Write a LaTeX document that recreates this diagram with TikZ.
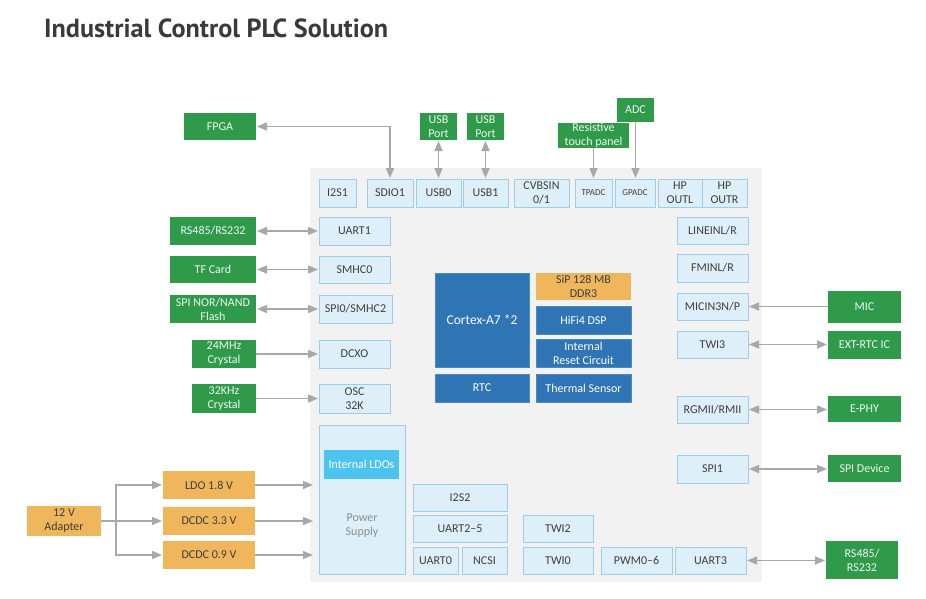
\documentclass[tikz,border=0pt]{standalone}
\usepackage{fontspec}
\setmainfont{Carlito}
\newfontfamily\titlefont{PT Sans}
\usetikzlibrary{arrows.meta}
\definecolor{grn}{HTML}{2F9B4A}
\definecolor{org}{HTML}{F0B65C}
\definecolor{lbf}{HTML}{DDEFF9}
\definecolor{lbd}{HTML}{9DCDEA}
\definecolor{blu}{HTML}{2F75B5}
\definecolor{cyn}{HTML}{4DC4F0}
\definecolor{bgc}{HTML}{F2F2F2}
\definecolor{arc}{HTML}{A8A8A8}
\definecolor{dk}{HTML}{3F3F3F}
\definecolor{ttl}{HTML}{3A3A3A}
\definecolor{pst}{HTML}{8C8C8C}
\newcommand\mybox[7]{\node[#2, minimum width={(#5-#3)*1pt}, minimum height={(#6-#4)*1pt}] (#1) at ({(#3+#5)/2},{(#4+#6)/2}) {#7};}
\begin{document}
\begin{tikzpicture}[x=1pt,y=-1pt,
  base/.style={inner sep=0pt, outer sep=0pt, align=center, font=\fontsize{12}{14}\selectfont},
  lb/.style={base, draw=lbd, line width=0.9pt, fill=lbf, text=dk},
  gb/.style={base, fill=grn, text=white!92!grn},
  ob/.style={base, fill=org, text=dk},
  bb/.style={base, fill=blu, draw=blu!85!white, line width=0.6pt, text=white},
  small/.style={font=\fontsize{9}{11}\selectfont},
  ar/.style={draw=arc, line width=1.5pt, -{Triangle[length=10pt,width=8pt]}, shorten >=1pt},
  bar/.style={draw=arc, line width=1.5pt, {Triangle[length=10pt,width=8pt]}-{Triangle[length=10pt,width=8pt]}, shorten >=1pt, shorten <=1pt},
  ln/.style={draw=arc, line width=1.5pt}]
\useasboundingbox[fill=white] (0,0) rectangle (926,598);

\node[anchor=base west, inner sep=0pt, text=ttl] (title) at (44,37) {\resizebox{344pt}{!}{\titlefont\bfseries Industrial Control PLC Solution}};

% chip background
\mybox{bg}{base, fill=bgc}{310}{168}{762}{582}{}

% top row
\mybox{i2s1}{lb}{319}{179}{356}{207}{I2S1}
\mybox{sdio1}{lb}{367}{179}{413}{207}{SDIO1}
\mybox{usb0}{lb}{416}{179}{461}{207}{USB0}
\mybox{usb1}{lb}{463}{179}{508}{207}{USB1}
\mybox{cvbs}{lb}{514}{179}{569}{207}{CVBSIN\\0/1}
\mybox{tpadc}{lb,small}{575}{179}{612}{207}{TPADC}
\mybox{gpadc}{lb,small}{615}{179}{655}{207}{GPADC}
\mybox{hpl}{lb}{658}{179}{702}{207}{HP\\OUTL}
\mybox{hpr}{lb}{702}{179}{747}{207}{HP\\OUTR}

% top externals
\mybox{fpga}{gb}{184}{113}{256}{140}{FPGA}
\mybox{usbp1}{gb}{420}{113}{457}{140}{USB\\Port}
\mybox{usbp2}{gb}{467}{113}{504}{140}{USB\\Port}
\mybox{rtp}{gb}{558}{123}{629}{148}{Resistive\\touch panel}
\mybox{adc}{gb}{617}{98}{654}{122}{ADC}

% left column
\mybox{uart1}{lb}{319}{217}{390}{245}{UART1}
\mybox{smhc0}{lb}{319}{256}{390}{283}{SMHC0}
\mybox{spi0}{lb}{319}{295}{392}{323}{SPI0/SMHC2}
\mybox{dcxo}{lb}{319}{340}{390}{368}{DCXO}
\mybox{osc}{lb}{319}{384}{390}{413}{OSC\\32K}
\mybox{power}{lb}{319}{425}{405}{574}{}
\mybox{ldos}{base, fill=cyn, text=white}{324}{450}{399}{479}{Internal LDOs}
\node[base, text=pst] (pstext) at (362,525.5) {Power\\Supply};

% left externals
\mybox{rsa}{gb}{170}{217}{256}{245}{RS485/RS232}
\mybox{tf}{gb}{170}{256}{256}{283}{TF Card}
\mybox{nor}{gb}{170}{295}{256}{323}{SPI NOR/NAND\\Flash}
\mybox{x24}{gb}{192}{340}{256}{368}{24MHz\\Crystal}
\mybox{x32}{gb}{192}{384}{256}{413}{32KHz\\Crystal}

% center
\mybox{cortex}{bb}{435}{273}{529}{367}{\fontsize{13.5}{15}\selectfont Cortex-A7 *2}
\mybox{rtc}{bb}{435}{374}{529}{402}{RTC}
\mybox{sip}{ob}{536}{273}{631}{300}{SiP 128 MB\\DDR3}
\mybox{hifi}{bb}{536}{306}{631}{334}{HiFi4 DSP}
\mybox{irc}{bb}{536}{339}{631}{367}{Internal\\Reset Circuit}
\mybox{therm}{bb}{536}{374}{631}{402}{Thermal Sensor}

% right column
\mybox{linein}{lb}{677}{217}{748}{244}{LINEINL/R}
\mybox{fmin}{lb}{677}{254}{748}{282}{FMINL/R}
\mybox{micin}{lb}{677}{293}{748}{320}{MICIN3N/P}
\mybox{twi3}{lb}{677}{331}{748}{358}{TWI3}
\mybox{rgmii}{lb}{677}{396}{748}{423}{RGMII/RMII}
\mybox{spi1}{lb}{677}{455}{748}{483}{SPI1}

% right externals
\mybox{mic}{gb}{828}{291}{901}{323}{MIC}
\mybox{extrtc}{gb}{828}{331}{901}{359}{EXT-RTC IC}
\mybox{ephy}{gb}{828}{396}{901}{422}{E-PHY}
\mybox{spidev}{gb}{828}{455}{901}{482}{SPI Device}
\mybox{rsb}{gb}{826}{541}{898}{579}{RS485/\\RS232}

% bottom
\mybox{i2s2}{lb}{413}{484}{507}{511}{I2S2}
\mybox{uart25}{lb}{413}{515}{507}{542}{UART2–5}
\mybox{uart0}{lb}{413}{547}{458}{574}{UART0}
\mybox{ncsi}{lb}{462}{547}{507}{574}{NCSI}
\mybox{twi2}{lb}{523}{515}{593}{542}{TWI2}
\mybox{twi0}{lb}{523}{547}{593}{574}{TWI0}
\mybox{pwm}{lb}{601}{547}{672}{574}{PWM0–6}
\mybox{uart3}{lb}{675}{547}{746}{574}{UART3}

% power
\mybox{adapter}{ob}{27}{506}{101}{536}{12 V\\Adapter}
\mybox{ldo}{ob}{163}{471}{255}{499}{LDO 1.8 V}
\mybox{dc33}{ob}{163}{507}{255}{535}{DCDC 3.3 V}
\mybox{dc09}{ob}{163}{541}{255}{569}{DCDC 0.9 V}
\coordinate (br) at (116,521);

% connectors top
\draw[bar] (fpga.east) -| (sdio1.north);
\draw[bar] (usbp1.south) -- (usb0.north);
\draw[bar] (usbp2.south) -- (usb1.north);
\draw[ar] (rtp.south) -- (rtp.south |- tpadc.north);
\draw[ar] (adc.south) -- (adc.south |- gpadc.north);

% connectors left
\draw[bar] (rsa.east) -- (uart1.west);
\draw[bar] (tf.east) -- (smhc0.west);
\draw[bar] (nor.east) -- (spi0.west);
\draw[ar] (x24.east) -- (dcxo.west);
\draw[ar] (x32.east) -- (osc.west);

% connectors right
\draw[ar] (mic.west |- micin.east) -- (micin.east);
\draw[bar] (twi3.east) -- (twi3.east -| extrtc.west);
\draw[bar] (rgmii.east) -- (rgmii.east -| ephy.west);
\draw[bar] (spi1.east) -- (spi1.east -| spidev.west);
\draw[bar] (uart3.east) -- (uart3.east -| rsb.west);

% power connectors
\draw[ln] (adapter.east) -- (br);
\draw[ar] (br) |- (ldo.west);
\draw[ar] (br) -- (dc33.west);
\draw[ar] (br) |- (dc09.west);
\draw[ar, shorten >=6pt] (ldo.east) -- (ldo.east -| power.west);
\draw[ar, shorten >=6pt] (dc33.east) -- (dc33.east -| power.west);
\draw[ar, shorten >=6pt] (dc09.east) -- (dc09.east -| power.west);
\end{tikzpicture}
\end{document}
